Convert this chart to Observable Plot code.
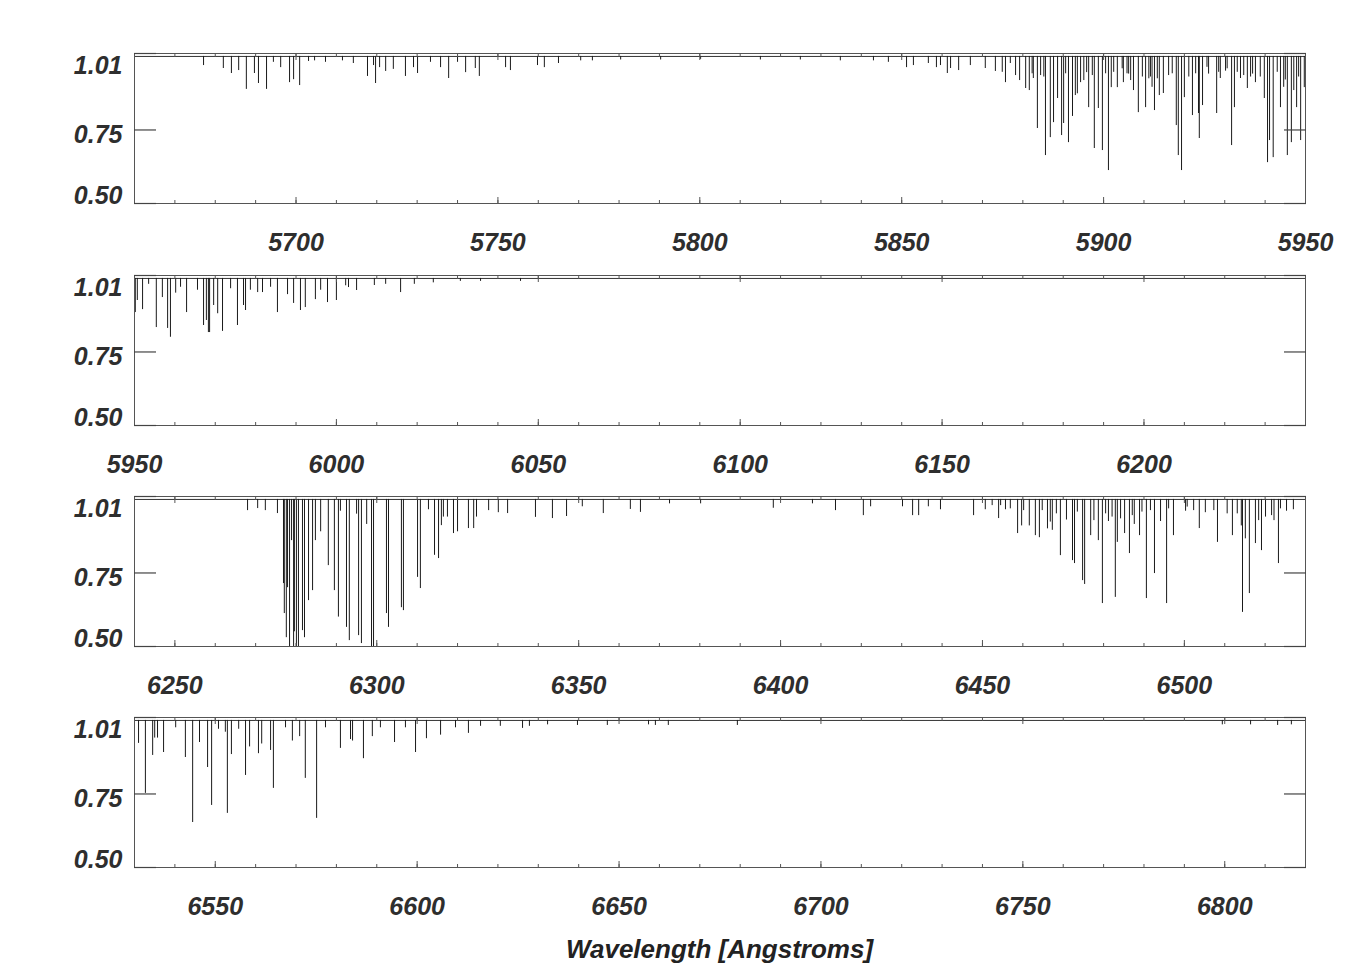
<!DOCTYPE html>
<html><head><meta charset="utf-8">
<script src="https://cdn.jsdelivr.net/npm/d3@7"></script>
<script src="https://cdn.jsdelivr.net/npm/@observablehq/plot@0.6"></script>
<style>
body{margin:0;background:#fff;}
#chart{position:relative;width:1350px;height:975px;}
.panel{position:absolute;left:0;}
#xtitle{position:absolute;left:134px;width:1171px;top:934px;line-height:26px;text-align:center;font:italic bold 26px "Liberation Sans",Arial,sans-serif;color:#222;}
</style></head><body><div id="chart"></div>
<script>
// ---- data ----
const panelDomains = [[5660, 5950], [5950, 6240], [6240, 6530], [6530, 6820]];
const panelTickLabels = [
  [5700, 5750, 5800, 5850, 5900, 5950],
  [5950, 6000, 6050, 6100, 6150, 6200],
  [6250, 6300, 6350, 6400, 6450, 6500],
  [6550, 6600, 6650, 6700, 6750, 6800]
];
const yTickValues = [0.50, 0.75, 1.01];
const yTickLabels = ["0.50", "0.75", "1.01"];
const xTitle = "Wavelength [Angstroms]";
const continuum = 1.0;

// absorption lines: [wavelength (Å), minimum normalized flux]
const lines1 = [[5677.1,0.969],[5682.0,0.959],[5684.0,0.942],[5685.8,0.952],[5687.7,0.888],[5689.7,0.942],[5690.7,0.908],[5692.7,0.888],[5694.4,0.98],[5696.2,0.962],[5698.4,0.911],[5699.4,0.921],[5700.9,0.901],[5703.1,0.983],[5704.6,0.985],[5707.3,0.98],[5711.5,0.985],[5714.2,0.976],[5717.7,0.932],[5719.2,0.969],[5719.7,0.908],[5720.7,0.962],[5722.2,0.949],[5724.1,0.956],[5727.1,0.932],[5729.1,0.962],[5730.1,0.942],[5733.3,0.98],[5735.8,0.962],[5737.8,0.925],[5740.0,0.98],[5742.0,0.945],[5744.4,0.959],[5745.4,0.932],[5751.9,0.962],[5753.1,0.952],[5759.8,0.969],[5761.5,0.962],[5765.0,0.976],[5770.5,0.985],[5773.4,0.985],[5780.4,0.988],[5790.3,0.988],[5800.2,0.99],[5815.0,0.988],[5824.9,0.988],[5834.8,0.985],[5843.0,0.985],[5846.7,0.98],[5851.2,0.962],[5852.9,0.969],[5856.6,0.976],[5858.6,0.962],[5859.6,0.969],[5861.3,0.942],[5862.1,0.959],[5864.1,0.952],[5867.0,0.969],[5870.7,0.959],[5873.2,0.949],[5874.9,0.946],[5875.7,0.911],[5876.9,0.976],[5878.2,0.935],[5879.2,0.918],[5880.7,0.891],[5881.6,0.884],[5882.3,0.941],[5882.6,0.925],[5883.6,0.755],[5884.4,0.935],[5885.2,0.93],[5885.6,0.663],[5886.8,0.724],[5887.6,0.775],[5888.6,0.857],[5889.6,0.731],[5890.1,0.772],[5890.6,0.941],[5891.3,0.707],[5892.3,0.796],[5893.0,0.867],[5893.5,0.873],[5894.3,0.911],[5895.1,0.918],[5895.8,0.945],[5896.3,0.826],[5897.2,0.935],[5897.7,0.687],[5898.7,0.823],[5899.7,0.68],[5900.5,0.941],[5901.2,0.612],[5901.9,0.894],[5902.5,0.946],[5903.4,0.894],[5904.6,0.958],[5904.9,0.911],[5905.8,0.941],[5906.2,0.94],[5906.7,0.918],[5907.4,0.884],[5908.6,0.809],[5909.6,0.93],[5910.4,0.826],[5911.2,0.924],[5911.6,0.93],[5912.0,0.895],[5912.6,0.816],[5913.3,0.924],[5913.8,0.867],[5914.8,0.874],[5916.1,0.935],[5917.0,0.941],[5918.0,0.765],[5918.5,0.663],[5919.3,0.612],[5920.0,0.86],[5921.1,0.93],[5922.0,0.799],[5922.8,0.941],[5923.5,0.806],[5923.7,0.721],[5924.5,0.833],[5925.6,0.963],[5926.0,0.94],[5928.0,0.806],[5928.5,0.946],[5928.9,0.925],[5930.2,0.95],[5930.6,0.958],[5931.7,0.697],[5932.4,0.826],[5933.1,0.946],[5933.9,0.925],[5934.7,0.935],[5935.6,0.891],[5936.4,0.93],[5936.9,0.94],[5937.6,0.911],[5938.8,0.93],[5939.8,0.857],[5940.6,0.639],[5941.1,0.714],[5942.0,0.656],[5943.0,0.946],[5943.8,0.826],[5944.6,0.895],[5945.0,0.92],[5945.5,0.663],[5946.5,0.707],[5947.1,0.884],[5947.8,0.826],[5948.3,0.93],[5948.8,0.714],[5949.7,0.894]];

const lines2 = [[5950.2,0.884],[5950.7,0.925],[5952.0,0.894],[5953.5,0.98],[5955.4,0.833],[5956.9,0.935],[5958.2,0.83],[5958.9,0.80],[5960.2,0.95],[5961.4,0.97],[5962.9,0.884],[5965.6,0.96],[5967.1,0.84],[5967.8,0.857],[5968.3,0.816],[5968.6,0.816],[5969.6,0.908],[5970.6,0.88],[5971.8,0.82],[5973.8,0.965],[5975.5,0.84],[5977.0,0.908],[5977.5,0.891],[5978.7,0.96],[5980.5,0.952],[5981.7,0.952],[5983.7,0.97],[5985.4,0.884],[5987.9,0.945],[5989.4,0.915],[5991.1,0.891],[5992.3,0.901],[5994.8,0.928],[5996.1,0.96],[5997.8,0.918],[6000.0,0.925],[6002.3,0.975],[6003.0,0.969],[6005.0,0.959],[6009.4,0.976],[6012.2,0.98],[6015.9,0.952],[6019.3,0.98],[6024.0,0.985],[6030.7,0.99],[6035.7,0.99],[6045.6,0.99]];

const lines3 = [[6268.0,0.962],[6270.5,0.969],[6272.4,0.962],[6275.4,0.952],[6276.9,0.714],[6277.1,0.612],[6277.6,0.53],[6277.9,0.70],[6278.4,0.48],[6278.9,0.86],[6279.4,0.48],[6279.6,0.55],[6280.1,0.48],[6280.6,0.48],[6281.6,0.554],[6282.1,0.53],[6283.1,0.656],[6284.1,0.69],[6284.8,0.86],[6286.1,0.89],[6288.0,0.775],[6289.5,0.69],[6290.5,0.60],[6291.0,0.96],[6292.5,0.565],[6293.2,0.52],[6295.0,0.95],[6295.5,0.537],[6296.2,0.51],[6297.5,0.915],[6298.7,0.48],[6299.2,0.48],[6302.4,0.612],[6302.9,0.565],[6306.1,0.632],[6306.6,0.622],[6310.1,0.735],[6310.8,0.697],[6312.8,0.965],[6314.3,0.81],[6315.3,0.799],[6316.0,0.911],[6316.5,0.94],[6317.5,0.94],[6319.0,0.884],[6320.0,0.89],[6322.7,0.901],[6324.0,0.901],[6324.7,0.94],[6327.7,0.962],[6330.1,0.955],[6332.4,0.952],[6339.3,0.939],[6343.5,0.935],[6347.0,0.942],[6350.9,0.975],[6356.1,0.952],[6362.8,0.966],[6365.3,0.956],[6372.5,0.985],[6380.2,0.985],[6398.2,0.97],[6407.9,0.985],[6413.6,0.962],[6420.5,0.945],[6422.3,0.975],[6430.2,0.975],[6432.7,0.945],[6434.2,0.945],[6436.6,0.975],[6439.6,0.965],[6447.8,0.945],[6450.7,0.965],[6452.4,0.979],[6454.0,0.935],[6454.5,0.979],[6455.7,0.965],[6456.9,0.968],[6458.7,0.884],[6459.7,0.91],[6460.2,0.962],[6461.6,0.91],[6463.1,0.877],[6464.1,0.87],[6464.8,0.962],[6466.1,0.90],[6466.8,0.923],[6467.3,0.895],[6468.3,0.951],[6469.3,0.809],[6470.8,0.93],[6472.3,0.792],[6472.8,0.782],[6473.5,0.957],[6474.8,0.724],[6475.3,0.711],[6476.8,0.877],[6477.6,0.928],[6478.7,0.86],[6479.7,0.646],[6480.5,0.951],[6481.2,0.925],[6482.1,0.94],[6482.9,0.667],[6483.4,0.854],[6484.2,0.934],[6485.2,0.884],[6486.4,0.816],[6487.1,0.945],[6487.6,0.915],[6488.9,0.877],[6489.5,0.957],[6490.6,0.663],[6491.6,0.962],[6492.6,0.748],[6494.1,0.925],[6495.6,0.646],[6496.1,0.968],[6497.3,0.877],[6500.3,0.96],[6500.7,0.974],[6502.3,0.962],[6503.7,0.901],[6505.2,0.955],[6507.3,0.962],[6508.2,0.854],[6510.6,0.951],[6511.9,0.877],[6513.1,0.951],[6514.1,0.91],[6514.4,0.616],[6515.1,0.866],[6516.1,0.68],[6517.6,0.85],[6518.4,0.928],[6519.1,0.826],[6520.1,0.94],[6521.6,0.945],[6522.2,0.928],[6523.3,0.782],[6523.8,0.968],[6525.3,0.96],[6527.0,0.965]];

const lines4 = [[6531.0,0.922],[6532.7,0.752],[6534.5,0.881],[6535.0,0.94],[6535.7,0.94],[6537.2,0.891],[6540.2,0.975],[6542.6,0.874],[6544.4,0.653],[6546.1,0.925],[6548.1,0.84],[6549.1,0.711],[6550.8,0.97],[6552.5,0.96],[6553.0,0.684],[6554.0,0.884],[6555.8,0.97],[6557.5,0.813],[6558.5,0.91],[6560.7,0.887],[6561.5,0.92],[6563.7,0.898],[6564.4,0.769],[6567.4,0.975],[6569.1,0.93],[6570.9,0.945],[6572.3,0.803],[6575.1,0.667],[6577.3,0.975],[6581.0,0.905],[6583.5,0.935],[6584.0,0.93],[6586.7,0.87],[6588.9,0.945],[6590.9,0.975],[6594.4,0.925],[6597.1,0.975],[6599.6,0.891],[6602.3,0.938],[6605.8,0.95],[6609.5,0.975],[6612.7,0.956],[6615.7,0.98],[6620.6,0.98],[6626.1,0.973],[6627.8,0.98],[6632.3,0.985],[6639.7,0.983],[6647.1,0.983],[6657.3,0.985],[6659.0,0.983],[6662.2,0.983],[6679.3,0.983],[6799.4,0.985],[6806.4,0.985],[6813.1,0.983],[6816.5,0.985]];

const panelLines = [lines1, lines2, lines3, lines4];

// ---- layout / style ----
const frameTops = [53, 275, 496, 717];
const yLabelShift = [-8, 5, 12];
const font = '"Liberation Sans", Arial, sans-serif';
const chart = document.getElementById("chart");

panelDomains.forEach((domain, i) => {
  const data = panelLines[i].map(([wave, flux]) => ({wave, flux}));
  const minor = d3.range(Math.ceil(domain[0] / 10) * 10, domain[1] + 0.001, 10);
  const major = minor.filter(d => d % 50 === 0);
  const blank = () => "";
  const marks = [
    Plot.ruleY([continuum], {stroke: "#333", strokeWidth: 1}),
    Plot.ruleX(data, {x: "wave", y1: continuum, y2: "flux", stroke: "#1a1a1a", strokeWidth: 1, clip: true}),
    Plot.frame({stroke: "#555", strokeWidth: 1}),
    Plot.axisX({anchor: "bottom", ticks: minor, tickSize: -3, tickFormat: blank, label: null, stroke: "#555"}),
    Plot.axisX({anchor: "top", ticks: minor, tickSize: -3, tickFormat: blank, label: null, stroke: "#555"}),
    Plot.axisX({anchor: "bottom", ticks: major, tickSize: -6, tickFormat: blank, label: null, stroke: "#555"}),
    Plot.axisX({anchor: "top", ticks: major, tickSize: -6, tickFormat: blank, label: null, stroke: "#555"}),
    Plot.axisX({anchor: "bottom", ticks: panelTickLabels[i], tickSize: 0, tickPadding: 30, tickFormat: d => String(d), label: null}),
    Plot.axisY({anchor: "left", ticks: yTickValues, tickSize: -22, tickFormat: blank, label: null, stroke: "#444", strokeWidth: 1.2}),
    Plot.axisY({anchor: "right", ticks: yTickValues, tickSize: -22, tickFormat: blank, label: null, stroke: "#444", strokeWidth: 1.2}),
    ...yTickValues.map((v, k) => Plot.axisY({anchor: "left", ticks: [v], tickSize: 0, tickPadding: 12, tickFormat: () => yTickLabels[k], dy: yLabelShift[k], label: null}))
  ];
  const svg = Plot.plot({
    width: 1350, height: 220,
    marginLeft: 134, marginRight: 45, marginTop: 10, marginBottom: 60,
    x: {domain, axis: null},
    y: {domain: [0.5, 1.01], axis: null},
    style: {fontFamily: font, fontSize: "25px", fontWeight: "bold", fontStyle: "italic", color: "#2e2e2e", background: "transparent", overflow: "visible"},
    marks
  });
  svg.classList.add("panel");
  svg.style.top = (frameTops[i] - 10) + "px";
  chart.appendChild(svg);
});

const title = document.createElement("div");
title.id = "xtitle";
title.textContent = xTitle;
chart.appendChild(title);
</script>
</body></html>
